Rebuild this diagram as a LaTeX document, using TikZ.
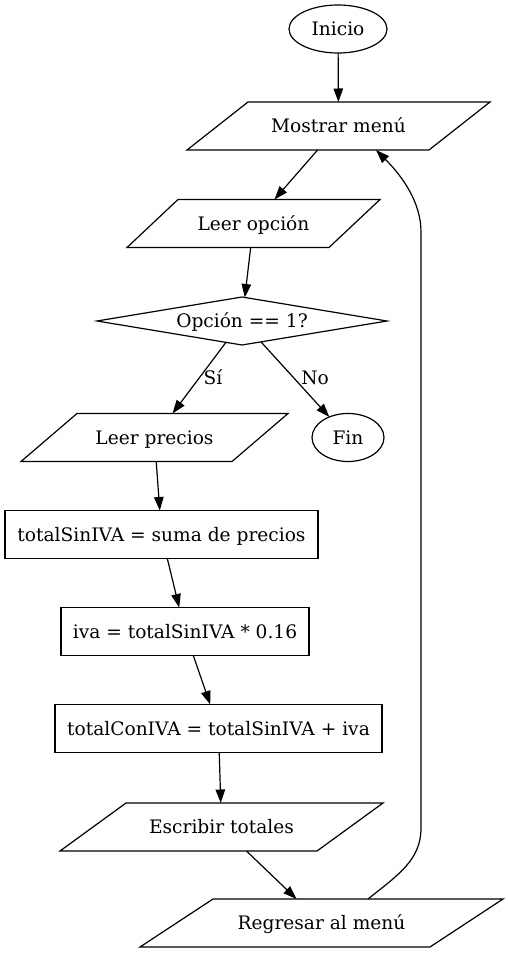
\documentclass[tikz,border=0pt]{standalone}
\usepackage{fontspec}
\setmainfont{DejaVu Serif}
\usetikzlibrary{shapes.geometric,arrows.meta,calc}
\newcommand\paranode[6]{%
  \node[parabox, minimum width=#4] (#1) at (#2,#3) {#6};
  \draw[shapeline] ($(#1.north west)+(#5,0)$) -- (#1.north east) -- ($(#1.south east)+(-#5,0)$) -- (#1.south west) -- cycle;}
\begin{document}
\begin{tikzpicture}[x=1pt,y=-1pt,
  every node/.style={font=\fontsize{18.6}{22}\selectfont, text height=13.5pt, text depth=0pt, inner sep=0pt, outer sep=0pt},
  shapeline/.style={draw, line width=1.2pt},
  parabox/.style={rectangle, minimum height=48pt},
  ovalbox/.style={ellipse, shapeline, minimum height=48pt},
  procbox/.style={rectangle, shapeline, minimum height=48pt},
  decbox/.style={diamond, shapeline, aspect=6, minimum width=290pt, minimum height=48pt},
  lbl/.style={},
  arr/.style={line width=1.2pt, -{Triangle[length=13.5pt,width=9.5pt]}}]
\useasboundingbox (0,0) rectangle (508,953);
\node[ovalbox, minimum width=98pt] (start) at (338,29) {Inicio};
\paranode{mm}{338.5}{126}{303pt}{61}{Mostrar menú}
\paranode{lo}{253.5}{223.5}{253pt}{51}{Leer opción}
\node[decbox] (dec) at (242,321) {Opción == 1?};
\paranode{lp}{154.5}{437.5}{267pt}{56}{Leer precios}
\node[ovalbox, minimum width=72pt] (fin) at (348,437.5) {Fin};
\node[procbox, minimum width=313pt] (ts) at (161.5,534.5) {totalSinIVA = suma de precios};
\node[procbox, minimum width=248pt] (iva) at (185,631.5) {iva = totalSinIVA * 0.16};
\node[procbox, minimum width=327pt] (tc) at (218.5,728.5) {totalConIVA = totalSinIVA + iva};
\paranode{et}{221.5}{827}{323pt}{66}{Escribir totales}
\paranode{rg}{321.5}{923}{363pt}{73}{Regresar al menú}
\node[lbl] (si) at (213,378) {Sí};
\node[lbl] (no) at (315,378) {No};
\coordinate (rgout) at ($(rg.north)+(46.5,0)$);
\coordinate (mmin) at ($(mm.south)+(37.5,0)$);
\draw[arr] (start) -- (mm);
\draw[arr] (mm) -- (lo);
\draw[arr] (lo) -- (dec);
\draw[arr] (dec) -- (lp);
\draw[arr] (dec) -- (fin);
\draw[arr] (lp) -- (ts);
\draw[arr] (ts) -- (iva);
\draw[arr] (iva) -- (tc);
\draw[arr] (tc) -- (et);
\draw[arr] (et) -- (rg);
\draw[arr] (rgout) .. controls (398,875) and (421,860) .. (421,828) -- (421,232) .. controls (421,202) and (402,176) .. (mmin);
\end{tikzpicture}
\end{document}
